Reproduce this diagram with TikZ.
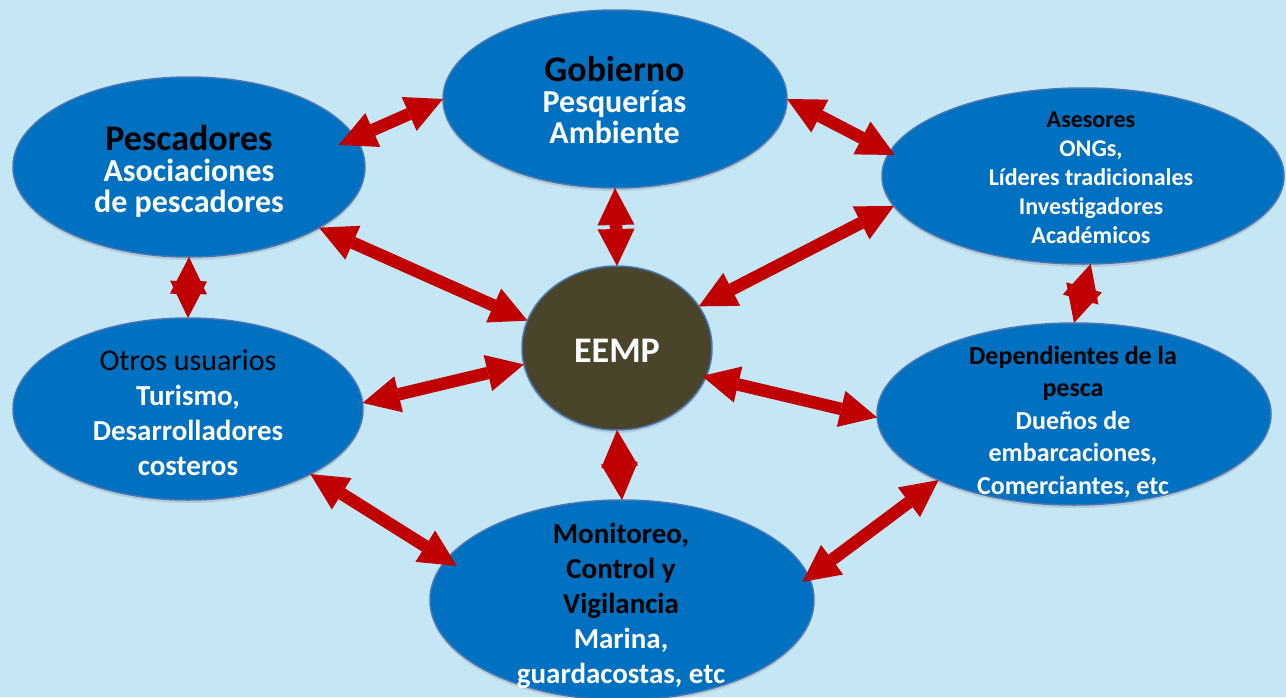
\documentclass[tikz,border=0pt]{standalone}
\usepackage{fontspec}
\setmainfont{Carlito}[Ligatures=CommonOff]
\usetikzlibrary{arrows.meta,shapes.geometric,shadows}
\definecolor{bgblue}{RGB}{197,230,244}
\definecolor{ellblue}{RGB}{0,112,192}
\definecolor{ellline}{RGB}{70,118,180}
\definecolor{eempfill}{RGB}{74,69,42}
\definecolor{arrred}{RGB}{192,0,0}
\begin{document}
\begin{tikzpicture}[x=1pt,y=-1pt,
  ell/.style={ellipse, fill=ellblue, draw=ellline, line width=1.5pt, inner sep=0pt, outer sep=0pt,
    drop shadow={shadow xshift=0pt,shadow yshift=-3pt,opacity=0.25}},
  lbl/.style={align=center, inner sep=0pt, text=white},
  dbl/.style={draw=arrred, line width=12.5pt, {Triangle[length=37pt,width=37pt,line width=0pt]}-{Triangle[length=37pt,width=37pt,line width=0pt]}},
]
\fill[bgblue] (0,0) rectangle (1286,697);
\useasboundingbox (0,0) rectangle (1286,697);

% ellipses
\node[ell, minimum width=352pt, minimum height=180pt] (pesc) at (189,167) {};
\node[ell, minimum width=344pt, minimum height=178pt] (gob) at (615,99) {};
\node[ell, minimum width=402pt, minimum height=176pt] (ases) at (1083,176) {};
\node[ell, minimum width=394pt, minimum height=182pt] (dep) at (1074,414) {};
\node[ell, minimum width=350pt, minimum height=182pt] (otros) at (188,409) {};
\node[ell, minimum width=384pt, minimum height=200pt] (mon) at (622,600) {};
\node[ell, fill=eempfill, minimum width=190pt, minimum height=164pt] (eemp) at (617,348) {};

% texts
\node[lbl, font=\bfseries\fontsize{32}{31}\selectfont] (pesct) at (189,171.5)
  {\textcolor{black}{\fontsize{36}{31}\selectfont Pescadores}\\Asociaciones\\de pescadores};
\node[lbl, font=\bfseries\fontsize{32}{31}\selectfont] (gobt) at (614.5,99.5)
  {\textcolor{black}{\fontsize{36}{31}\selectfont Gobierno}\\Pesquerías\\Ambiente};
\node[lbl, font=\bfseries\fontsize{24}{29}\selectfont] (asest) at (1091,178)
  {\textcolor{black}{Asesores}\\ONGs,\\Líderes tradicionales\\Investigadores\\Académicos};
\node[lbl, font=\bfseries\fontsize{26}{32.5}\selectfont] (dept) at (1073,422)
  {\textcolor{black}{Dependientes de la}\\\textcolor{black}{pesca}\\Dueños de\\embarcaciones,\\Comerciantes, etc};
\node[lbl, font=\bfseries\fontsize{29}{35}\selectfont] (otrost) at (188,413)
  {\textcolor{black}{\mdseries\fontsize{30}{35}\selectfont Otros usuarios}\\Turismo,\\Desarrolladores\\costeros};
\node[lbl, font=\bfseries\fontsize{29}{35}\selectfont] (mont) at (621,606)
  {\textcolor{black}{Monitoreo,}\\\textcolor{black}{Control y}\\\textcolor{black}{Vigilancia}\\Marina,\\guardacostas, etc};
\node[lbl, font=\bfseries\fontsize{36}{40}\selectfont] (eempt) at (617,350.5) {EEMP};

% connectors
\draw[dbl, shorten <=-18pt] (pesc.10) -- (gob.180);
\draw[dbl] (pesc.-25) -- (eemp.163);
\draw[dbl] (gob.south) -- (eemp.north);
\draw[dbl, shorten >=-6pt] (gob.east) -- (ases.173);
\draw[dbl] (ases.189) -- (eemp.27);
\draw[dbl] (ases.-85) -- (dep.north);
\draw[dbl] (pesc.south) -- (otros.north);
\draw[dbl] (otros.2) -- (eemp.190);
\draw[dbl, shorten <=-4pt] (eemp.-18) -- (dep.181);
\draw[dbl] (eemp.south) -- (mon.north);
\draw[dbl, shorten >=-12pt] (otros.-28) -- (mon.167);
\draw[dbl, shorten >=-8pt] (dep.206) -- (mon.7);
\end{tikzpicture}
\end{document}
